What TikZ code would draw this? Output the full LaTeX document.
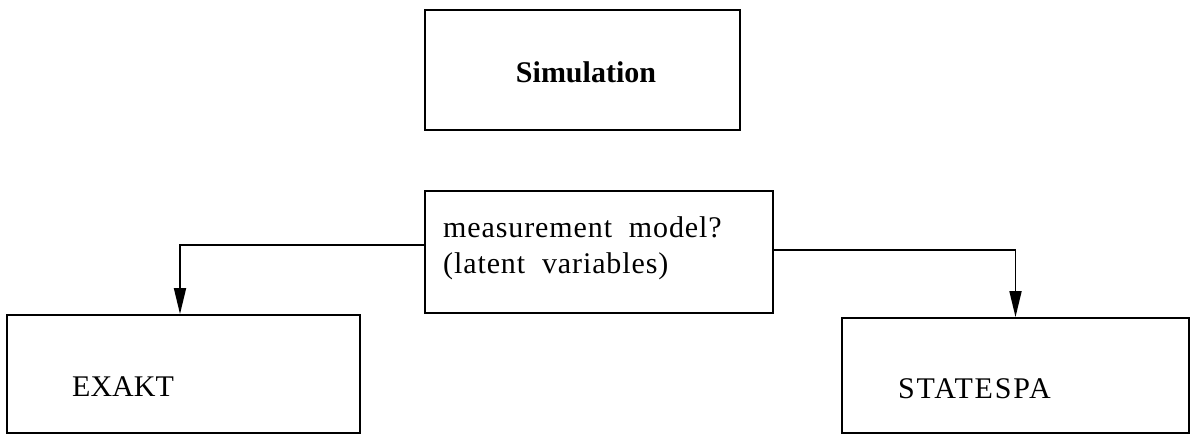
\documentclass[tikz,border=0pt]{standalone}
\usepackage{fontspec}
\setmainfont{Liberation Serif}
\usetikzlibrary{arrows.meta}
\tikzset{
  box/.style={draw=black, line width=1.8pt, rectangle, inner sep=0pt},
  lbl/.style={inner sep=0pt, font=\fontsize{30}{36}\selectfont},
  arr/.style={draw=black, line width=1.8pt, -{Triangle[length=26pt,width=12pt]}},
}
\begin{document}
\begin{tikzpicture}[x=1pt,y=-1pt]
\useasboundingbox[fill=white] (0,0) rectangle (1198,435);
% Simulation
\node[box, minimum width=315pt, minimum height=120pt] (sim) at (582.5,70) {};
\node[lbl, font=\fontsize{30}{36}\selectfont\bfseries, anchor=base] (simt) at (586,83) {Simulation};
% measurement
\node[box, minimum width=348pt, minimum height=122pt] (meas) at (599,252) {};
\node[lbl, anchor=base west] (m1) at (443,238) {\addfontfeature{LetterSpace=3}measurement\ \ model?};
\node[lbl, anchor=base west] (m2) at (443,274) {\addfontfeature{LetterSpace=3}(latent\ \ variables)};
% EXAKT
\node[box, minimum width=353pt, minimum height=118pt] (ex) at (183.5,374) {};
\node[lbl, anchor=base west] (ext) at (72,396) {EXAKT};
% STATESPA
\node[box, minimum width=347pt, minimum height=115pt] (st) at (1015.5,375.5) {};
\node[lbl, anchor=base west] (stt) at (898,398) {\addfontfeature{LetterSpace=6}STATESPA};
% connectors
\draw[arr] ([yshift=7pt]meas.west) -| ([xshift=-3.5pt]ex.north);
\draw[arr] ([yshift=2pt]meas.east) -| (st.north);
\end{tikzpicture}
\end{document}
